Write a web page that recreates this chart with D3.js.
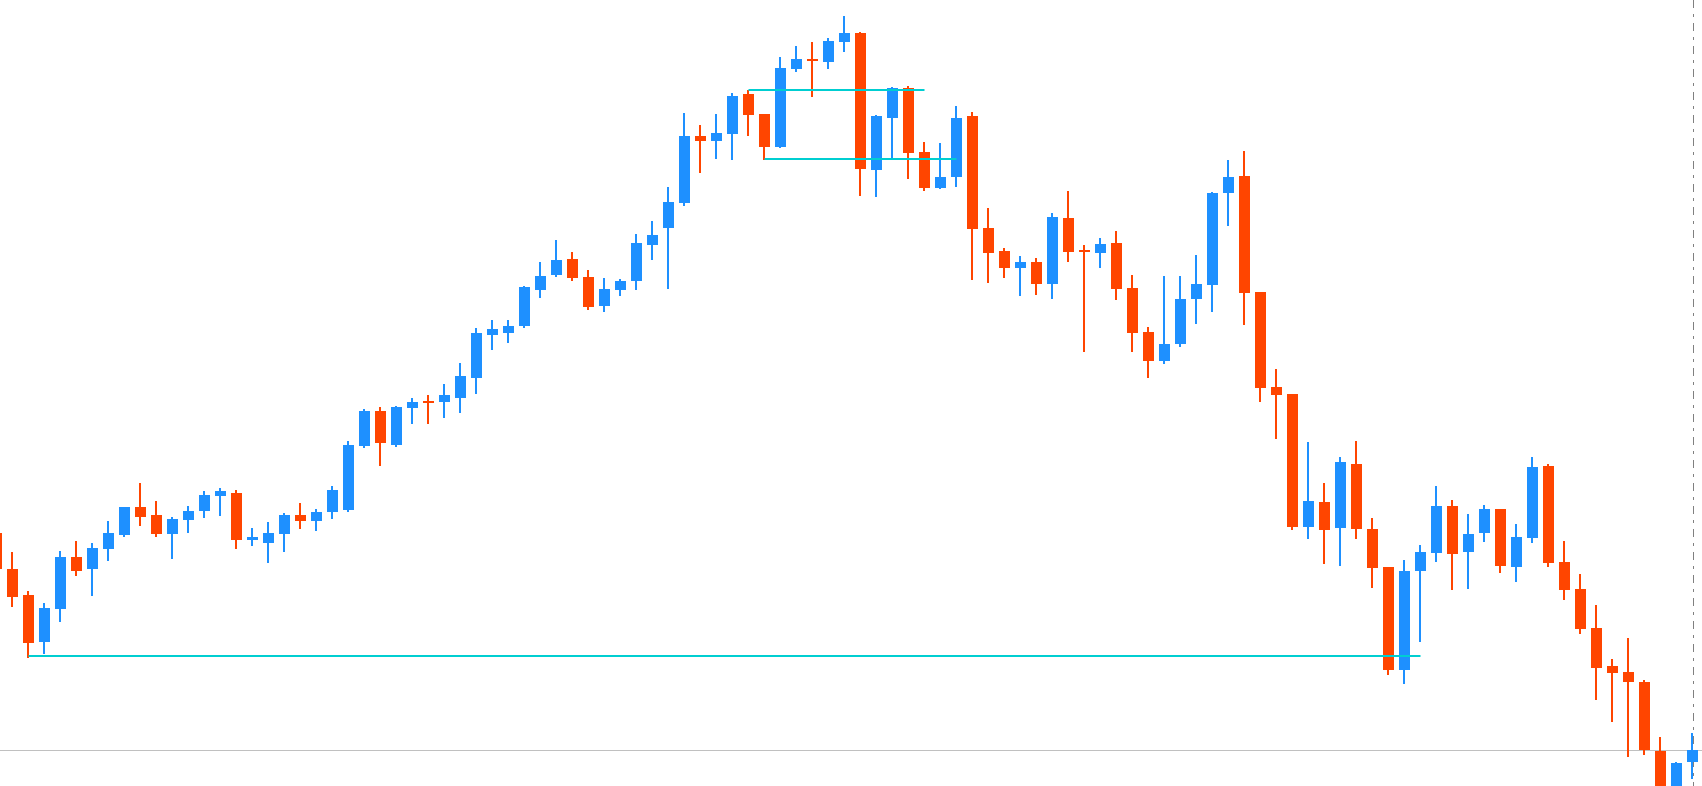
<!DOCTYPE html>
<html>
<head>
<meta charset="utf-8">
<script src="https://cdn.jsdelivr.net/npm/d3@7/dist/d3.min.js"></script>
<style>
  html, body { margin: 0; padding: 0; background: #ffffff; overflow: hidden; }
  svg { display: block; }
</style>
</head>
<body>
<svg id="chart" width="1702" height="786"></svg>
<script>
// ---- Data (prices) ----
const openPrices = [
  1.1067, 1.1031, 1.1005, 1.0958, 1.0991, 1.1043, 1.1031, 1.1051, 1.1065, 1.1093,
  1.1085, 1.1066, 1.1080, 1.1089, 1.1104, 1.1107, 1.1060, 1.1057, 1.1066, 1.1085,
  1.1079, 1.1088, 1.1090, 1.1154, 1.1189, 1.1155, 1.1192, 1.1199, 1.1198, 1.1202,
  1.1222, 1.1265, 1.1267, 1.1274, 1.1310, 1.1325, 1.1341, 1.1323, 1.1294, 1.1310,
  1.1319, 1.1355, 1.1372, 1.1397, 1.1464, 1.1459, 1.1466, 1.1506, 1.1486, 1.1453,
  1.1531, 1.1541, 1.1538, 1.1558, 1.1567, 1.1430, 1.1482, 1.1512, 1.1448, 1.1412,
  1.1423, 1.1484, 1.1372, 1.1349, 1.1332, 1.1338, 1.1316, 1.1382, 1.1350, 1.1347,
  1.1357, 1.1312, 1.1268, 1.1239, 1.1256, 1.1301, 1.1315, 1.1407, 1.1424, 1.1308,
  1.1213, 1.1206, 1.1073, 1.1098, 1.1072, 1.1136, 1.1071, 1.1033, 1.0930, 1.1029,
  1.1047, 1.1094, 1.1048, 1.1067, 1.1091, 1.1033, 1.1062, 1.1134, 1.1038, 1.1011,
  1.0972, 1.0934, 1.0928, 1.0918, 1.0849, 1.0800, 1.0838
];
const highPrices = [
  1.1069, 1.1048, 1.1009, 1.0997, 1.1049, 1.1059, 1.1057, 1.1079, 1.1093, 1.1117,
  1.1099, 1.1083, 1.1094, 1.1109, 1.1112, 1.1110, 1.1072, 1.1078, 1.1087, 1.1097,
  1.1091, 1.1114, 1.1159, 1.1191, 1.1193, 1.1194, 1.1202, 1.1205, 1.1216, 1.1237,
  1.1272, 1.1280, 1.1280, 1.1314, 1.1338, 1.1360, 1.1348, 1.1330, 1.1322, 1.1321,
  1.1366, 1.1379, 1.1413, 1.1487, 1.1475, 1.1486, 1.1507, 1.1510, 1.1486, 1.1543,
  1.1554, 1.1558, 1.1562, 1.1584, 1.1568, 1.1485, 1.1513, 1.1514, 1.1458, 1.1457,
  1.1494, 1.1488, 1.1392, 1.1352, 1.1344, 1.1342, 1.1387, 1.1409, 1.1355, 1.1362,
  1.1369, 1.1325, 1.1273, 1.1324, 1.1324, 1.1345, 1.1408, 1.1440, 1.1449, 1.1308,
  1.1231, 1.1206, 1.1158, 1.1117, 1.1143, 1.1159, 1.1082, 1.1033, 1.1040, 1.1055,
  1.1114, 1.1100, 1.1086, 1.1095, 1.1091, 1.1076, 1.1143, 1.1136, 1.1059, 1.1026,
  1.0995, 1.0941, 1.0962, 1.0920, 1.0863, 1.0838, 1.0867
];
const lowPrices = [
  1.1029, 1.0993, 1.0942, 1.0946, 1.0978, 1.1024, 1.1004, 1.1039, 1.1063, 1.1074,
  1.1063, 1.1041, 1.1067, 1.1082, 1.1084, 1.1051, 1.1054, 1.1037, 1.1048, 1.1071,
  1.1069, 1.1081, 1.1088, 1.1152, 1.1134, 1.1153, 1.1176, 1.1176, 1.1182, 1.1187,
  1.1206, 1.1250, 1.1257, 1.1272, 1.1302, 1.1323, 1.1319, 1.1290, 1.1288, 1.1304,
  1.1310, 1.1340, 1.1311, 1.1394, 1.1427, 1.1441, 1.1440, 1.1464, 1.1440, 1.1452,
  1.1528, 1.1503, 1.1531, 1.1548, 1.1404, 1.1403, 1.1442, 1.1421, 1.1409, 1.1411,
  1.1413, 1.1320, 1.1317, 1.1322, 1.1304, 1.1305, 1.1301, 1.1338, 1.1248, 1.1332,
  1.1300, 1.1248, 1.1222, 1.1236, 1.1253, 1.1276, 1.1288, 1.1374, 1.1275, 1.1198,
  1.1161, 1.1070, 1.1061, 1.1036, 1.1034, 1.1061, 1.1012, 1.0925, 1.0916, 1.0958,
  1.1038, 1.1010, 1.1011, 1.1058, 1.1027, 1.1018, 1.1057, 1.1033, 1.1000, 1.0966,
  1.0900, 1.0878, 1.0843, 1.0845, 1.0790, 1.0795, 1.0821
];
const closePrices = [
  1.1031, 1.1003, 1.0957, 1.0992, 1.1043, 1.1029, 1.1052, 1.1067, 1.1093, 1.1083,
  1.1066, 1.1081, 1.1089, 1.1105, 1.1109, 1.1060, 1.1063, 1.1067, 1.1085, 1.1079,
  1.1088, 1.1110, 1.1155, 1.1189, 1.1157, 1.1193, 1.1198, 1.1198, 1.1205, 1.1224,
  1.1267, 1.1271, 1.1274, 1.1313, 1.1324, 1.1340, 1.1322, 1.1293, 1.1311, 1.1319,
  1.1357, 1.1365, 1.1398, 1.1464, 1.1459, 1.1467, 1.1504, 1.1485, 1.1453, 1.1532,
  1.1541, 1.1539, 1.1559, 1.1567, 1.1431, 1.1484, 1.1512, 1.1447, 1.1412, 1.1423,
  1.1482, 1.1371, 1.1347, 1.1332, 1.1338, 1.1316, 1.1383, 1.1348, 1.1348, 1.1356,
  1.1311, 1.1267, 1.1239, 1.1256, 1.1301, 1.1316, 1.1407, 1.1423, 1.1307, 1.1212,
  1.1205, 1.1073, 1.1099, 1.1070, 1.1138, 1.1071, 1.1032, 1.0930, 1.1029, 1.1048,
  1.1094, 1.1046, 1.1066, 1.1091, 1.1034, 1.1063, 1.1133, 1.1037, 1.1010, 1.0971,
  1.0932, 1.0927, 1.0918, 1.0850, 1.0800, 1.0837, 1.0850
];
// Horizontal levels drawn as segments: [start candle, end candle, price]
const levelStarts = [47, 48, 2];
const levelEnds   = [58, 60, 89];
const levelPrices = [1.1510, 1.1441, 1.0944];

// ---- Layout ----
const W = 1702, H = 786;
const n = openPrices.length;
const candles = d3.range(n).map(i => ({
  i, o: openPrices[i], h: highPrices[i], l: lowPrices[i], c: closePrices[i]
}));

const x = d3.scaleLinear().domain([0, n - 1]).range([-3.5, 1692.5]);
const y = d3.scaleLinear().domain([1.0814, 1.1600]).range([H, 0]);

const UP = "#1E90FF", DOWN = "#FF4500", LEVEL = "#00CED1";
const bodyW = 11, wickW = 2;

const svg = d3.select("#chart");
svg.append("rect").attr("width", W).attr("height", H).attr("fill", "#ffffff");

// last price line
const lastClose = closePrices[n - 1];
svg.append("line")
  .attr("x1", 0).attr("x2", W)
  .attr("y1", Math.round(y(lastClose)) + 0.5).attr("y2", Math.round(y(lastClose)) + 0.5)
  .attr("stroke", "#c0c0c0").attr("stroke-width", 1);

// current time dashed line
const xLast = Math.round(x(n - 1));
svg.append("line")
  .attr("x1", xLast + 0.5).attr("x2", xLast + 0.5)
  .attr("y1", 0).attr("y2", H)
  .attr("stroke", "#808080").attr("stroke-width", 1)
  .attr("stroke-dasharray", "8,6,3,6");

const g = svg.append("g").attr("shape-rendering", "crispEdges");

// wicks
g.selectAll("rect.wick").data(candles).join("rect")
  .attr("class", "wick")
  .attr("x", d => x(d.i) - 1.5)
  .attr("width", wickW)
  .attr("y", d => y(d.h))
  .attr("height", d => Math.max(1, y(d.l) - y(d.h)))
  .attr("fill", d => d.c >= d.o ? UP : DOWN);

// bodies
g.selectAll("rect.body").data(candles).join("rect")
  .attr("class", "body")
  .attr("x", d => x(d.i) - bodyW / 2)
  .attr("width", bodyW)
  .attr("y", d => y(Math.max(d.o, d.c)))
  .attr("height", d => Math.max(1.5, Math.abs(y(d.o) - y(d.c))))
  .attr("fill", d => d.c >= d.o ? UP : DOWN);

// levels
const levels = levelStarts.map((s, k) => ({ s, e: levelEnds[k], p: levelPrices[k] }));
svg.selectAll("line.level").data(levels).join("line")
  .attr("class", "level")
  .attr("x1", d => x(d.s)).attr("x2", d => x(d.e))
  .attr("y1", d => y(d.p)).attr("y2", d => y(d.p))
  .attr("stroke", LEVEL).attr("stroke-width", 2);
</script>
</body>
</html>
